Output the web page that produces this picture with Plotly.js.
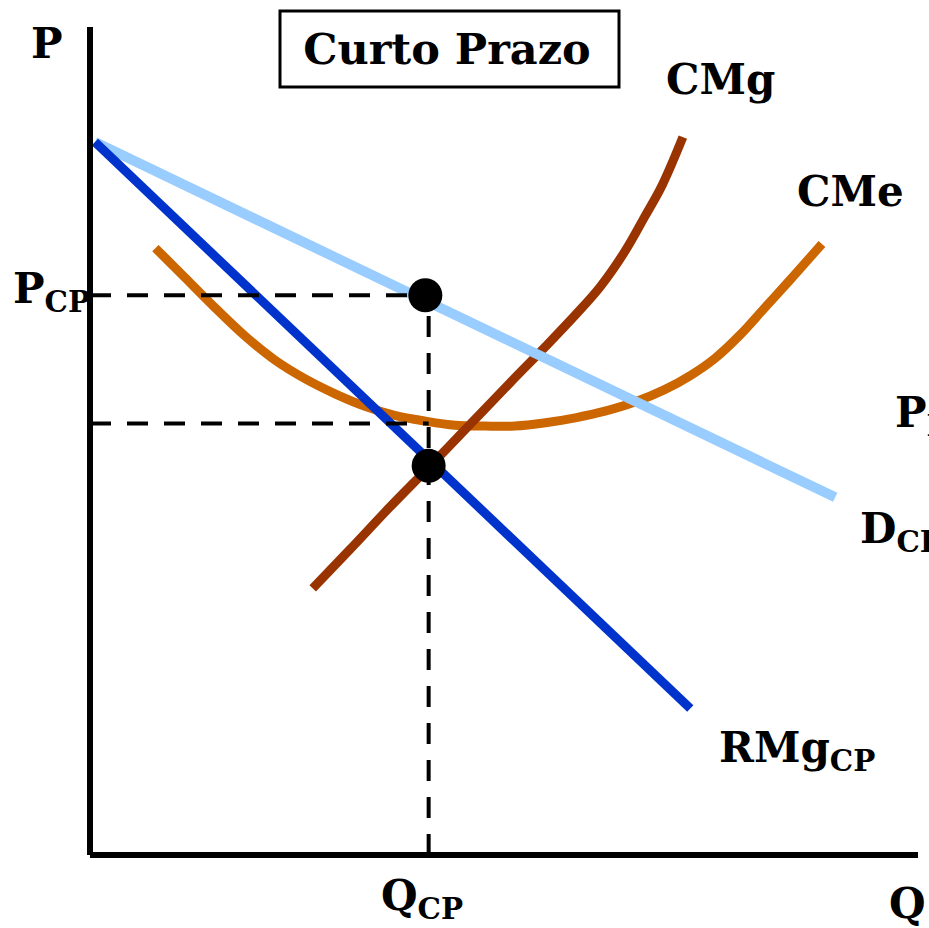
<!DOCTYPE html>
<html>
<head>
<meta charset="utf-8">
<script src="https://cdn.plot.ly/plotly-3.0.1.min.js"></script>
<style>
  html, body { margin: 0; padding: 0; background: #fff; }
  #chart { width: 929px; height: 928px; }
</style>
</head>
<body>
<div id="chart"></div>
<script>
// Short-run monopolistic competition diagram (quantity vs price, 0-100 units)

// Demand (D_CP) and marginal revenue (RMg_CP): straight lines
const demandQ = [0.6, 90.0];
const demandP = [86.1, 43.2];
const mrQ = [0.6, 72.5];
const mrP = [86.1, 17.7];

// Marginal cost (CMg)
const mcQ = [26.9, 31.4, 36.2, 41.1, 45.9, 50.7, 55.0, 58.6, 61.6, 64.6, 67.0, 69.1, 71.6];
const mcP = [32.2, 36.9, 42.0, 47.0, 52.0, 57.0, 61.4, 65.2, 68.6, 72.9, 77.1, 80.9, 86.7];

// Average cost (CMe)
const acQ = [7.9, 11.5, 15.1, 18.7, 22.3, 26.0, 29.6, 33.2, 36.8, 40.5, 44.1, 47.7,
             51.3, 55.0, 58.6, 62.2, 65.8, 69.4, 72.5, 75.5, 78.5, 81.5, 84.5, 88.4];
const acP = [73.3, 69.7, 66.1, 62.7, 59.8, 57.5, 55.7, 54.2, 53.1, 52.4, 51.9, 51.8,
             51.8, 52.2, 52.8, 53.6, 54.7, 56.2, 57.9, 60.0, 62.8, 66.1, 69.4, 73.8];

// Short-run equilibrium
const qCP = 40.9;      // output where RMg = CMg
const pCP = 67.6;
const mcAtQ = 47.0;    // RMg = CMg level
const acAtQ = 52.1;    // average cost at qCP

const fontFam = 'DejaVu Serif';
const labelFont = { family: fontFam, size: 42, color: '#000', weight: 'bold' };

const traces = [
  { x: acQ, y: acP, mode: 'lines', line: { color: '#CC6600', width: 9, shape: 'spline', smoothing: 1 }, hoverinfo: 'skip' },
  { x: mcQ, y: mcP, mode: 'lines', line: { color: '#993300', width: 9, shape: 'spline', smoothing: 1 }, hoverinfo: 'skip' },
  { x: demandQ, y: demandP, mode: 'lines', line: { color: '#99CCFF', width: 10 }, hoverinfo: 'skip' },
  { x: mrQ, y: mrP, mode: 'lines', line: { color: '#0033CC', width: 9 }, hoverinfo: 'skip' },
  // guide lines
  { x: [0, qCP], y: [pCP, pCP], mode: 'lines', line: { color: '#000', width: 4, dash: '21px,16px' }, hoverinfo: 'skip' },
  { x: [0, qCP], y: [acAtQ, acAtQ], mode: 'lines', line: { color: '#000', width: 4, dash: '21px,16px' }, hoverinfo: 'skip' },
  { x: [qCP, qCP], y: [0, pCP], mode: 'lines', line: { color: '#000', width: 4, dash: '21px,16px' }, hoverinfo: 'skip' },
  // equilibrium points
  { x: [qCP - 0.4, qCP], y: [pCP, mcAtQ], mode: 'markers', marker: { color: '#000', size: 34 }, cliponaxis: false, hoverinfo: 'skip' }
];

const annotations = [
  { xref: 'paper', yref: 'paper', x: -0.052, y: 0.98, text: 'P', showarrow: false, font: labelFont, xanchor: 'center', yanchor: 'middle' },
  { xref: 'x', yref: 'y', x: 0, y: pCP, text: 'P<sub>CP</sub>', showarrow: false, font: labelFont, xanchor: 'right', yanchor: 'middle', xshift: 2, yshift: 4 },
  { xref: 'paper', yref: 'paper', x: 0.761, y: 0.936, text: 'CMg', showarrow: false, font: labelFont, xanchor: 'center', yanchor: 'middle' },
  { xref: 'paper', yref: 'paper', x: 0.919, y: 0.801, text: 'CMe', showarrow: false, font: labelFont, xanchor: 'center', yanchor: 'middle' },
  { xref: 'paper', yref: 'paper', x: 0.970, y: 0.531, text: 'P<sub>LP</sub>', showarrow: false, font: labelFont, xanchor: 'left', yanchor: 'middle' },
  { xref: 'paper', yref: 'paper', x: 0.928, y: 0.391, text: 'D<sub>CP</sub>', showarrow: false, font: labelFont, xanchor: 'left', yanchor: 'middle' },
  { xref: 'paper', yref: 'paper', x: 0.757, y: 0.126, text: 'RMg<sub>CP</sub>', showarrow: false, font: labelFont, xanchor: 'left', yanchor: 'middle' },
  { xref: 'x', yref: 'y', x: qCP, y: 0, text: 'Q<sub>CP</sub>', showarrow: false, font: labelFont, xanchor: 'center', yanchor: 'top', xshift: -7, yshift: -14 },
  { xref: 'paper', yref: 'paper', x: 0.987, y: -0.058, text: 'Q', showarrow: false, font: labelFont, xanchor: 'center', yanchor: 'middle' }
];

const shapes = [
  // axes
  { type: 'line', xref: 'paper', yref: 'paper', x0: 0, y0: 0, x1: 0, y1: 1, line: { color: '#000', width: 6 } },
  { type: 'line', xref: 'paper', yref: 'paper', x0: 0, y0: 0, x1: 1, y1: 0, line: { color: '#000', width: 6 } },
  // title frame
  { type: 'rect', xref: 'paper', yref: 'paper', x0: (280 - 90) / 828, x1: (619 - 90) / 828,
    y0: (855 - 87) / 828, y1: (855 - 11) / 828, line: { color: '#000', width: 3 }, fillcolor: 'rgba(0,0,0,0)' }
];

const layout = {
  width: 929, height: 928,
  margin: { l: 90, r: 11, t: 27, b: 73 },
  paper_bgcolor: '#fff', plot_bgcolor: '#fff',
  showlegend: false,
  title: { text: 'Curto Prazo', font: { family: fontFam, size: 43, color: '#000', weight: 'bold' },
           x: 447 / 929, xanchor: 'center', y: 1 - 49 / 928, yanchor: 'middle' },
  xaxis: { range: [0, 100], showgrid: false, zeroline: false, showline: false, showticklabels: false, ticks: '', fixedrange: true },
  yaxis: { range: [0, 100], showgrid: false, zeroline: false, showline: false, showticklabels: false, ticks: '', fixedrange: true },
  shapes: shapes,
  annotations: annotations
};

Plotly.newPlot('chart', traces, layout, { staticPlot: true, displayModeBar: false });
</script>
</body>
</html>
